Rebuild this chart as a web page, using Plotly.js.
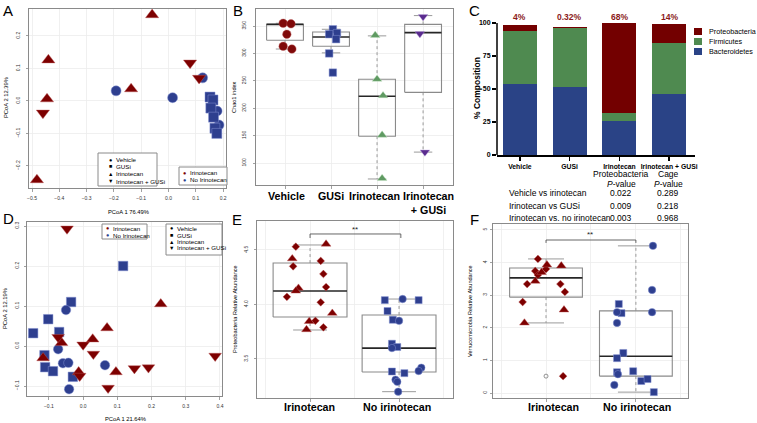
<!DOCTYPE html>
<html><head><meta charset="utf-8">
<script src="https://cdn.plot.ly/plotly-3.0.1.min.js"></script>
<style>html,body{margin:0;padding:0;background:#fff}#chart{width:757px;height:423px}</style>
</head><body><div id="chart"></div>
<script>
// ================= DATA =================
// Panel A : PCoA (76.49% / 12.39%)
const aVehicleX=[-0.192,0.015,0.125,0.178,0.185];
const aVehicleY=[0.031,0.010,0.071,-0.031,-0.074];
const aGusiX=[0.152,0.163,0.155,0.165,0.170,0.177];
const aGusiY=[0.012,0.003,-0.022,-0.050,-0.084,-0.100];
const aIriX=[-0.060,-0.440,-0.445,-0.137,-0.482];
const aIriY=[0.265,0.126,0.006,0.037,-0.243];
const aIriGX=[-0.460,0.079,0.112];
const aIriGY=[-0.037,0.117,0.070];
const aXTicks=[-0.5,-0.4,-0.3,-0.2,-0.1,0,0.1,0.2];
const aYTicks=[-0.2,-0.1,0,0.1,0.2];

// Panel B : Chao1 index
const chaoCats=['Vehicle','GUSi','Irinotecan','Irinotecan<br>+ GUSi'];
const chaoQ1=[324,313,149,229];
const chaoMed=[353,330,222,338];
const chaoQ3=[353,339,253,353];
const chaoLo=[308,301,71,120];
const chaoHi=[355,344,332,369];
const chaoVehicle=[355,354,335,313,308];
const chaoVehicleJit=[-0.04,0.13,0.04,-0.04,0.15];
const chaoGusi=[344,335,337,326,300,265];
const chaoGusiJit=[0.04,-0.04,0.13,0.11,-0.04,0.04];
const chaoIri=[333,253,223,151,72];
const chaoIriJit=[-0.04,0,0.13,0.11,0.11];
const chaoIriG=[367,336,120];
const chaoIriGJit=[0,-0.07,0.04];
const chaoTicks=[100,150,200,250,300,350];

// Panel C : % composition
const compCats=['Vehicle','GUSi','Irinotecan','Irinotecan + GUSi'];
const bacteroidetes=[53.5,51.3,25.5,46];
const firmicutes=[40.5,45.2,6.5,39];
const proteobacteria=[4.8,0.32,68,14];
const proteoLabels=['4%','0.32%','68%','14%'];
const compTicks=[0,25,50,75,100];
const tableHead1=['Proteobacteria','Cage'];
const tableRows=['Vehicle vs irinotecan','Irinotecan vs GUSi','Irinotecan vs. no irinotecan'];
const tableProteoP=['0.022','0.009','0.003'];
const tableCageP=['0.289','0.218','0.968'];

// Panel D : PCoA (21.64% / 12.19%)
const dVehicleX=[-0.050,-0.073,-0.059,-0.043,-0.041,0.064];
const dVehicleY=[0.090,-0.008,-0.043,-0.042,-0.108,-0.048];
const dGusiX=[-0.035,-0.102,-0.146,-0.070,-0.113,-0.111,-0.088,-0.030,0.117];
const dGusiY=[0.110,0.067,0.032,0.035,-0.023,-0.053,-0.063,-0.077,0.200];
const dIriX=[-0.063,0.028,0.070,-0.117,-0.013,0.096,0.227];
const dIriY=[0.008,0.017,0.045,-0.030,-0.065,-0.065,0.105];
const dIriGX=[-0.073,0.000,0.030,-0.010,0.073,0.150,0.191,0.386,-0.047];
const dIriGY=[0.022,0.003,-0.020,-0.075,-0.105,-0.056,-0.054,-0.025,0.293];
const dXTicks=[-0.1,0,0.1,0.2,0.3,0.4];
const dYTicks=[-0.1,0,0.1,0.2,0.3];

// Panel E : Proteobacteria relative abundance
const grpCats=['Irinotecan','No irinotecan'];
const eQ1=[3.885,3.38], eMed=[4.124,3.60], eQ3=[4.38,3.904], eLo=[3.766,3.20], eHi=[4.546,4.05];
const eIriTri=[4.555,4.42,4.15,4.124,3.92,3.845,3.77];
const eIriTriJit=[0.18,-0.20,-0.13,-0.16,0.25,-0.01,-0.04];
const eIriDia=[4.53,4.35,4.40,4.28,4.16,4.07,4.02,3.85,3.79];
const eIriDiaJit=[-0.16,-0.19,0.12,0.15,0.18,-0.26,0.12,0.06,0.15];
const eNoSq=[4.04,4.04,3.94,3.86,3.64,3.61,3.385,3.37];
const eNoSqJit=[-0.16,0.22,-0.13,-0.07,-0.08,-0.02,-0.08,0.06];
const eNoCi=[4.05,3.85,3.60,3.42,3.39,3.31,3.29,3.20];
const eNoCiJit=[0.04,0,-0.08,0.25,0.22,-0.04,-0.02,-0.01];
const eTicks=[3.5,4.0,4.5];

// Panel F : Verrucomicrobia relative abundance
const fQ1=[2.94,0.52], fMed=[3.53,1.13], fQ3=[3.83,2.52], fLo=[2.15,0.03], fHi=[4.11,4.51];
const fIriDia=[4.11,3.80,3.74,3.62,3.34,3.34,3.10,2.79,0.52];
const fIriDiaJit=[-0.09,0.0,-0.12,-0.09,-0.21,0.16,0.21,-0.26,0.19];
const fIriTri=[3.93,3.90,3.70,3.43,2.55,2.15];
const fIriTriJit=[0.01,0.17,-0.05,-0.12,0.20,-0.24];
const fIriOutlier=[0.52];
const fNoCi=[4.51,3.16,2.48,2.48,2.15,0.58,0.25];
const fNoCiJit=[0.19,0.18,0.18,-0.21,-0.21,-0.20,-0.24];
const fNoSq=[2.73,2.45,1.23,1.07,0.67,0.64,0.37,0.43,0.03];
const fNoSqJit=[-0.19,-0.16,-0.14,-0.21,-0.03,-0.21,0.06,0.13,0.20];
const fTicks=[0,1,2,3,4,5];

// ================= STYLE / HELPERS =================
const W=757,H=423;
const px=p=>p/W, py=p=>1-p/H;
const FONT='Liberation Sans, Arial, Helvetica, sans-serif';
const RED='#7d0000', BLUE='#2e3f8f', GREEN='#5f9a62', PURPLE='#5a2b8e';
const RED_E='rgba(190,90,90,0.6)', BLUE_E='rgba(130,145,210,0.7)';
const traces=[];
function pts(xa,ya,x,y,symbol,color,size,edge){
  traces.push({type:'scatter',mode:'markers',xaxis:xa,yaxis:ya,x:x,y:y,cliponaxis:false,
    marker:{symbol:symbol,color:color,size:size,line:{color:edge||'rgba(255,255,255,0.4)',width:0.7}},
    hoverinfo:'skip',showlegend:false});
}
const jit=(c,arr)=>arr.map(j=>c+j);
function boxes(xa,ya,q1,med,q3,lo,hi,hw,cw){
  for(let i=0;i<q1.length;i++){
    const c=i;
    traces.push({type:'scatter',mode:'lines',xaxis:xa,yaxis:ya,hoverinfo:'skip',showlegend:false,
      x:[c,c,null,c,c],y:[q3[i],hi[i],null,q1[i],lo[i]],line:{color:'#9a9a9a',width:1,dash:'dot'}});
    traces.push({type:'scatter',mode:'lines',xaxis:xa,yaxis:ya,hoverinfo:'skip',showlegend:false,
      x:[c-cw,c+cw,null,c-cw,c+cw],y:[hi[i],hi[i],null,lo[i],lo[i]],line:{color:'#9a9a9a',width:1}});
    traces.push({type:'scatter',mode:'lines',xaxis:xa,yaxis:ya,hoverinfo:'skip',showlegend:false,
      x:[c-hw,c+hw,c+hw,c-hw,c-hw],y:[q1[i],q1[i],q3[i],q3[i],q1[i]],line:{color:'#8a8a8a',width:1.1}});
    traces.push({type:'scatter',mode:'lines',xaxis:xa,yaxis:ya,hoverinfo:'skip',showlegend:false,
      x:[c-hw,c+hw],y:[med[i],med[i]],line:{color:'#262626',width:1.6}});
  }
}

// ---- Panel A points ----
pts('x','y',aVehicleX,aVehicleY,'circle',BLUE,10,BLUE_E);
pts('x','y',aGusiX,aGusiY,'square',BLUE,10,BLUE_E);
pts('x','y',aIriX,aIriY,'triangle-up',RED,11.5,RED_E);
pts('x','y',aIriGX,aIriGY,'triangle-down',RED,11.5,RED_E);

// ---- Panel B ----
boxes('x2','y2',chaoQ1,chaoMed,chaoQ3,chaoLo,chaoHi,0.40,0.2);
pts('x2','y2',jit(0,chaoVehicleJit),chaoVehicle,'circle','#7f0a0a',8.5,RED_E);
pts('x2','y2',jit(1,chaoGusiJit),chaoGusi,'square',BLUE,7.5,BLUE_E);
pts('x2','y2',jit(2,chaoIriJit),chaoIri,'triangle-up',GREEN,8.5,'rgba(200,230,200,0.6)');
pts('x2','y2',jit(3,chaoIriGJit),chaoIriG,'triangle-down',PURPLE,8.5,'rgba(200,180,230,0.6)');

// ---- Panel C ----
traces.push({type:'bar',xaxis:'x3',yaxis:'y3',x:[0,1,2,3],y:bacteroidetes,width:0.68,marker:{color:'#2a4386',line:{width:0}},hoverinfo:'skip',showlegend:false});
traces.push({type:'bar',xaxis:'x3',yaxis:'y3',x:[0,1,2,3],y:firmicutes,width:0.68,marker:{color:'#4f8a50',line:{width:0}},hoverinfo:'skip',showlegend:false});
traces.push({type:'bar',xaxis:'x3',yaxis:'y3',x:[0,1,2,3],y:proteobacteria,width:0.68,marker:{color:'#730000',line:{width:0}},hoverinfo:'skip',showlegend:false});

// ---- Panel D ----
pts('x4','y4',dGusiX,dGusiY,'square',BLUE,9.5,BLUE_E);
pts('x4','y4',dVehicleX,dVehicleY,'circle',BLUE,9.5,BLUE_E);
pts('x4','y4',dIriX,dIriY,'triangle-up',RED,11,RED_E);
pts('x4','y4',dIriGX,dIriGY,'triangle-down',RED,11,RED_E);

// ---- Panel E ----
boxes('x5','y5',eQ1,eMed,eQ3,eLo,eHi,0.415,0.19);
pts('x5','y5',jit(0,eIriDiaJit),eIriDia,'diamond',RED,6,RED_E);
pts('x5','y5',jit(0,eIriTriJit),eIriTri,'triangle-up',RED,8.5,RED_E);
pts('x5','y5',jit(1,eNoSqJit),eNoSq,'square',BLUE,7,BLUE_E);
pts('x5','y5',jit(1,eNoCiJit),eNoCi,'circle',BLUE,7.5,BLUE_E);

// ---- Panel F ----
boxes('x6','y6',fQ1,fMed,fQ3,fLo,fHi,0.405,0.2);
traces.push({type:'scatter',mode:'markers',xaxis:'x6',yaxis:'y6',x:[0],y:fIriOutlier,marker:{symbol:'circle-open',size:4,color:'#777',line:{width:0.8}},hoverinfo:'skip',showlegend:false});
pts('x6','y6',jit(0,fIriDiaJit),fIriDia,'diamond',RED,6,RED_E);
pts('x6','y6',jit(0,fIriTriJit),fIriTri,'triangle-up',RED,8.5,RED_E);
pts('x6','y6',jit(1,fNoSqJit),fNoSq,'square',BLUE,7,BLUE_E);
pts('x6','y6',jit(1,fNoCiJit),fNoCi,'circle',BLUE,7.5,BLUE_E);

// ================= AXES =================
function fAx(dom,rng,o){
  return Object.assign({domain:dom,range:rng,showline:true,mirror:true,linecolor:'#8a8a8a',linewidth:1,
    ticks:'outside',ticklen:2.5,tickwidth:0.8,tickcolor:'#8a8a8a',tickfont:{size:5,color:'#333',family:FONT},
    showgrid:true,gridcolor:'#ececec',gridwidth:0.8,zeroline:false,fixedrange:true,tickmode:'array'},o);
}
const catMinor={tickmode:'array',tickvals:[-0.5,0.5,1.5,2.5,3.5],showgrid:true,gridcolor:'#ececec',gridwidth:0.8,ticks:''};

const layout={
  width:W,height:H,margin:{l:0,r:0,t:0,b:0},paper_bgcolor:'#fff',plot_bgcolor:'#fff',
  showlegend:false,barmode:'stack',font:{family:FONT,color:'#000'},
  xaxis:fAx([px(29),px(226)],[-0.511,0.2106],{anchor:'y',tickvals:aXTicks,tickformat:'.1f',ticklabelstandoff:2}),
  yaxis:fAx([py(188),py(9)],[-0.268,0.283],{anchor:'x',tickvals:aYTicks,tickformat:'.1f',tickangle:-90,ticklabelstandoff:4}),
  xaxis2:fAx([px(256),px(453)],[-0.63,3.65],{anchor:'y2',tickvals:[0,1,2,3],showticklabels:false}),
  yaxis2:fAx([py(185),py(9)],[60,381],{anchor:'x2',tickvals:chaoTicks,tickangle:-90,ticklabelstandoff:5}),
  xaxis3:{domain:[px(497),px(695)],range:[-0.46,3.52],anchor:'y3',tickmode:'array',tickvals:[0,1,2,3],ticktext:compCats,
    tickangle:0,showline:true,linecolor:'#000',linewidth:1.5,ticks:'outside',ticklen:4,tickwidth:1.5,tickcolor:'#000',
    tickfont:{size:6.8,weight:'bold',family:FONT,color:'#000'},showgrid:false,zeroline:false,fixedrange:true},
  yaxis3:{domain:[py(155),py(9)],range:[0,110.6],anchor:'x3',tickmode:'array',tickvals:compTicks,showline:false,
    ticks:'outside',ticklen:4,tickwidth:1.5,tickcolor:'#000',tickfont:{size:7,weight:'bold',family:FONT,color:'#000'},
    showgrid:false,zeroline:false,fixedrange:true},
  xaxis4:fAx([px(27),px(222)],[-0.164,0.406],{anchor:'y4',tickvals:dXTicks,tickformat:'.1f',ticklabelstandoff:2}),
  yaxis4:fAx([py(396),py(222)],[-0.125,0.31],{anchor:'x4',tickvals:dYTicks,tickformat:'.1f',tickangle:-90,ticklabelstandoff:3}),
  xaxis5:fAx([px(257),px(453)],[-0.596,1.606],{anchor:'y5',tickvals:[0,1],showticklabels:false,minor:catMinor}),
  yaxis5:fAx([py(398),py(221)],[3.142,4.766],{anchor:'x5',tickvals:eTicks,tickformat:'.1f',tickangle:-90,ticklabelstandoff:4}),
  xaxis6:fAx([px(493),px(688)],[-0.59,1.58],{anchor:'y6',tickvals:[0,1],showticklabels:false,minor:catMinor}),
  yaxis6:fAx([py(398),py(224)],[-0.15,5.18],{anchor:'x6',tickvals:fTicks,tickangle:-90,ticklabelstandoff:1}),
  shapes:[],annotations:[]
};

// ================= ANNOTATIONS / SHAPES =================
const A=layout.annotations, S=layout.shapes;
function txt(x,y,text,o){
  o=o||{};
  A.push({xref:'paper',yref:'paper',x:px(x),y:py(y),text:text,showarrow:false,
    xanchor:o.xa||'center',yanchor:o.ya||'middle',textangle:o.angle||0,
    font:{family:FONT,size:o.size||8,color:o.color||'#000',weight:o.weight||'normal'}});
}
// panel letters
[['A',8,10],['B',238,10],['C',474,10],['D',8,218],['E',237,219],['F',474,219]].forEach(l=>txt(l[1],l[2],l[0],{size:15}));

// axis titles
txt(6,98,'PCoA 2 12.39%',{size:5.8,angle:-90});
txt(128,212,'PCoA 1 76.49%',{size:5.8});
txt(234,97,'Chao1 index',{size:5.6,angle:-90});
txt(477,88,'% Composition',{size:8.5,angle:-90,weight:'bold'});
txt(5,309,'PCoA 2 12.19%',{size:5.8,angle:-90});
txt(125,419,'PCoA 1 21.64%',{size:5.8});
txt(235,309,'Proteobacteria Relative Abundance',{size:5.6,angle:-90});
txt(470,311,'Verrucomicrobia Relative Abundance',{size:5.6,angle:-90});

// legends for A and D
const grpLegend=['Vehicle','GUSi','Irinotecan','Irinotecan + GUSi'];
const grpSyms=['●','■','▲','▼'];
const trtLegend=['Irinotecan','No Irinotecan'];
function legend(box,ys,symX,textX,syms,cols,labels){
  S.push({type:'rect',xref:'paper',yref:'paper',x0:px(box[0]),x1:px(box[2]),y0:py(box[3]),y1:py(box[1]),
    line:{color:'#8a8a8a',width:1},fillcolor:'#fff',layer:'above'});
  labels.forEach((lab,i)=>{
    txt(symX,ys[i],syms[i],{size:5.5,color:cols[i]});
    txt(textX,ys[i],lab,{size:6.2,xa:'left'});
  });
}
legend([98,153,157,186],[159.5,166.5,173.5,181],110,114,grpSyms,['#000','#000','#000','#000'],grpLegend);
legend([179,167,227,185],[172.5,180],184,188,['●','●'],[RED,BLUE],trtLegend);
legend([102,224,147,239],[228,235],107,111,['●','●'],[RED,BLUE],trtLegend);
legend([166,224,222,255],[228.5,235,241.5,248],171,175,grpSyms,['#000','#000','#000','#000'],grpLegend);

// Panel B category labels
const bLabX=[286,331,374.5,428.5];
chaoCats.forEach((c,i)=>txt(bLabX[i],188,c,{size:10.7,weight:'bold',ya:'top'}));
// Panel E/F category labels
const eLabX=[309.5,397], fLabX=[553,637];
grpCats.forEach((c,i)=>{txt(eLabX[i],407,c,{size:10.7,weight:'bold'});txt(fLabX[i],407,c,{size:10.7,weight:'bold'});});

// Panel C extras
S.push({type:'line',xref:'x3 domain',x0:0,x1:0,yref:'y3',y0:0,y1:100,line:{color:'#000',width:1.5}});
proteoLabels.forEach((t,i)=>A.push({xref:'x3',yref:'y3',x:i,y:104.5,text:t,showarrow:false,
  font:{family:FONT,size:8.5,color:'#8b1a1a',weight:'bold'}}));
const compLegend=['Proteobacteria','Firmicutes','Bacteroidetes'];
const compCols=['#730000','#4f8a50','#2a4386'];
compLegend.forEach((t,i)=>{
  const yc=31.5+i*10;
  S.push({type:'rect',xref:'paper',yref:'paper',x0:px(694),x1:px(702),y0:py(yc+3.5),y1:py(yc-3.5),line:{width:0},fillcolor:compCols[i]});
  txt(707,yc,t,{size:7.2,xa:'left'});
});
// table
const TS=8.5;
txt(621,174,tableHead1[0],{size:TS}); txt(668,174,tableHead1[1],{size:TS});
txt(621,184,'<i>P</i>-value',{size:TS}); txt(668,184,'<i>P</i>-value',{size:TS});
const rowY=[193,205.5,218];
tableRows.forEach((r,i)=>{
  txt(507,rowY[i],r,{size:TS,xa:'left'});
  txt(621,rowY[i],tableProteoP[i],{size:TS});
  txt(668,rowY[i],tableCageP[i],{size:TS});
});

// significance brackets
S.push({type:'path',xref:'x5',yref:'y5',path:'M0,4.61 L0,4.647 L1.02,4.647 L1.02,4.61',line:{color:'#555',width:0.9}});
A.push({xref:'x5',yref:'y5',x:0.5,y:4.69,text:'**',showarrow:false,font:{family:FONT,size:8,color:'#222'}});
S.push({type:'path',xref:'x6',yref:'y6',path:'M0,4.6 L0,4.69 L1,4.69 L1,4.6',line:{color:'#555',width:0.9}});
A.push({xref:'x6',yref:'y6',x:0.49,y:4.85,text:'**',showarrow:false,font:{family:FONT,size:8,color:'#222'}});

Plotly.newPlot('chart',traces,layout,{staticPlot:true,displayModeBar:false});
</script></body></html>
